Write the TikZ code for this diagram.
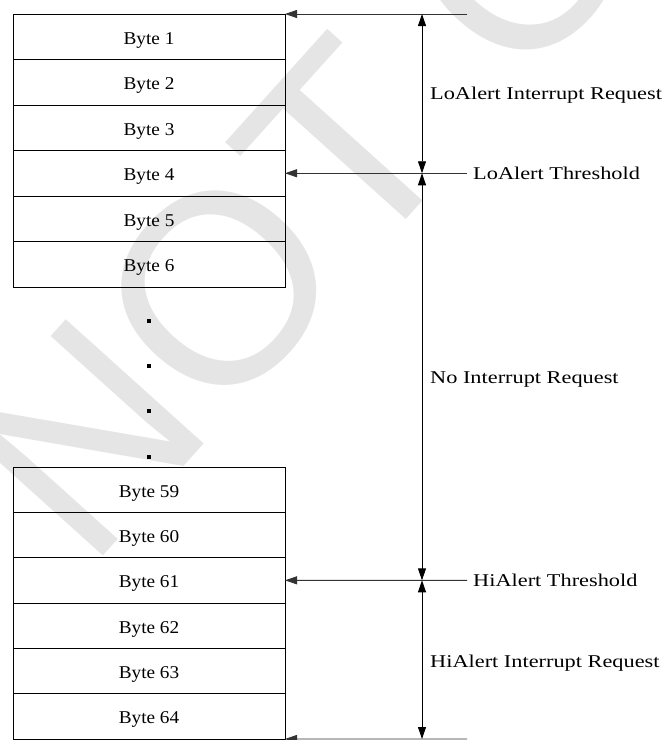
\documentclass[tikz,border=0pt]{standalone}
\usepackage{fontspec}
\setmainfont{Liberation Serif}
\newfontfamily\wmfont{Liberation Sans}
\usepackage{graphicx}
\usetikzlibrary{arrows.meta}
\begin{document}
\begin{tikzpicture}[x=1pt,y=-1pt,
  bytebox/.style={draw=black,line width=0.8pt,minimum width=272pt,minimum height=45.5pt,inner sep=0pt,outer sep=0pt,text depth=0pt,font=\fontsize{18}{20}\selectfont},
  lbl/.style={anchor=west,inner sep=0pt,font=\fontsize{18}{20}\selectfont},
  harrow/.style={draw=black!80,line width=0.9pt,-{Triangle[length=12pt,width=8pt]}},
  varrow/.style={draw=black,line width=0.9pt,{Triangle[length=12pt,width=8pt]}-{Triangle[length=12pt,width=8pt]}},
  dotsq/.style={fill=black,minimum size=4pt,inner sep=0pt}]
\useasboundingbox (0,0) rectangle (667,740);
% watermark
\node[rotate=48,anchor=south west,inner sep=0pt,text=black!10,font=\wmfont\fontsize{270}{270}\selectfont] (wm) at (90,575) {NOT CONFIDENTIAL};
% top group
\foreach \i [count=\k from 0] in {1,...,6}{
  \node[bytebox,anchor=north west] (b\i) at (13,14+45.5*\k) {\raisebox{-3pt}{\scalebox{1.07}[1]{Byte \i}}};
}
% bottom group
\foreach \i [count=\k from 0] in {59,...,64}{
  \node[bytebox,anchor=north west,minimum height=45.33pt] (b\i) at (13,467+45.33*\k) {\raisebox{-3pt}{\scalebox{1.07}[1]{Byte \i}}};
}
% dots
\node[dotsq] (d1) at (149,321) {};
\node[dotsq] (d2) at (149,366) {};
\node[dotsq] (d3) at (149,411) {};
\node[dotsq] (d4) at (149,457) {};
% coordinates on the right
\coordinate (ttop) at (467,14);
\coordinate (vtop) at (422,14);
\coordinate (lo) at (422,173.25);
\coordinate (loend) at (467,173.25);
\coordinate (hi) at (422,580.3);
\coordinate (hiend) at (467,580.3);
\coordinate (vbot) at (422,739);
\coordinate (tbot) at (467,739);
% horizontal arrows
\draw[harrow] (ttop) -- (b1.north east);
\draw[harrow] (loend) -- (b4.east);
\draw[harrow] (hiend) -- (b61.east);
\draw[harrow] (tbot) -- (b64.south east);
% vertical arrows
\draw[varrow] (vtop) -- (lo);
\draw[varrow] (lo) -- (hi);
\draw[varrow] (hi) -- (vbot);
% labels
\node[lbl] (l1) at (430,95) {\scalebox{1.24}[1]{LoAlert Interrupt Request}};
\node[lbl] (l2) at (473,173.25) {\scalebox{1.24}[1]{LoAlert Threshold}};
\node[lbl] (l3) at (430,380) {\scalebox{1.24}[1]{No Interrupt Request}};
\node[lbl] (l4) at (473,580.3) {\scalebox{1.24}[1]{HiAlert Threshold}};
\node[lbl] (l5) at (430,663) {\scalebox{1.24}[1]{HiAlert Interrupt Request}};
\end{tikzpicture}
\end{document}
